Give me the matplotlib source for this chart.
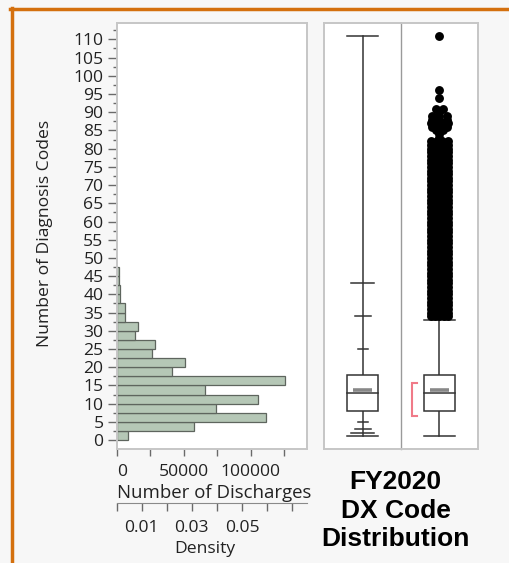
import numpy as np
import matplotlib
matplotlib.use("Agg")
import matplotlib.pyplot as plt
from matplotlib.ticker import FixedLocator, FuncFormatter, MultipleLocator
from matplotlib.lines import Line2D
from matplotlib.patches import Rectangle

# ---------------- data ----------------
bin_width = 2.5
bin_starts = [0, 2.5, 5, 7.5, 10, 12.5, 15, 17.5, 20, 22.5, 25, 27.5, 30,
              32.5, 35, 37.5, 40, 42.5, 45]
counts = [8750, 57800, 111700, 73800, 105200, 65800, 125700, 41600, 50600,
          26700, 28900, 13700, 15700, 6500, 6500, 2700, 2700, 1700, 1700]

count_ticks = [0, 25000, 50000, 75000, 100000, 125000]
count_labels = {0: "0", 50000: "50000", 100000: "100000"}
density_ticks = [0, 0.01, 0.02, 0.03, 0.04, 0.05, 0.06, 0.07]
density_labels = {0.01: "0.01", 0.03: "0.03", 0.05: "0.05"}

# quantile box plot (left)
q_levels = ["0.5%", "2.5%", "10%", "25%", "50%", "75%", "90%", "97.5%", "99.5%"]
q_values = [2, 3, 5, 8, 13, 18, 25, 34, 43]
data_min, data_max, data_mean = 1, 111, 13.8

# outlier box plot (right)
whisker_low, whisker_high = 1, 33
shortest_half = (6.6, 15.7)
outlier_values = [34, 35, 36, 37, 38, 39, 40, 41, 42, 43, 44, 45, 46, 47, 48, 49,
                  50, 51, 52, 53, 54, 55, 56, 57, 58, 59, 60, 61, 62, 63, 64, 65,
                  66, 67, 68, 69, 70, 71, 72, 73, 74, 75, 76, 77, 78, 79, 80, 81,
                  82, 83, 84, 85, 86, 87, 88, 89, 90, 91, 94, 96, 111]
outlier_points = [5, 5, 5, 5, 5, 5, 5, 5, 5, 5, 5, 5, 5, 5, 5, 5,
                  5, 5, 5, 5, 5, 5, 5, 5, 5, 5, 5, 5, 5, 5, 5, 5,
                  5, 5, 5, 5, 5, 5, 5, 5, 5, 5, 5, 5, 4, 5, 4, 4,
                  4, 1, 1, 2, 3, 4, 3, 3, 1, 2, 1, 1, 1]

# ---------------- style ----------------
FONT = "Open Sans"
TXT = "#222222"
TICKC = "#6a6a6a"
FRAME = "#c6c6c6"
FS = 12.6

W, H = 510, 563
fig = plt.figure(figsize=(W / 100, H / 100), dpi=100, facecolor="#f7f7f7")


def rect(x0, y0, x1, y1):
    return [x0 / W, 1 - y1 / H, (x1 - x0) / W, (y1 - y0) / H]


YLIM = (-2.45, 114.5)

# ---------------- histogram ----------------
ax = fig.add_axes(rect(116.7, 23, 307, 449))
ax.set_facecolor("white")
ax.barh(bin_starts, counts, height=bin_width, align="edge",
        color="#b5c7b6", edgecolor="#5e655e", linewidth=0.9, zorder=2)
ax.set_ylim(*YLIM)
ax.set_xlim(0, 142000)
for s in ax.spines.values():
    s.set_color(FRAME)
    s.set_linewidth(1.4)

ax.yaxis.set_major_locator(MultipleLocator(5))
ax.yaxis.set_minor_locator(MultipleLocator(2.5))
ax.yaxis.set_major_formatter(FuncFormatter(lambda v, p: f"{v:.0f}"))
ax.tick_params(axis="y", which="major", length=6.5, width=1, color=TICKC,
               labelsize=FS, labelcolor=TXT, pad=3)
ax.tick_params(axis="y", which="minor", length=3, width=1, color=TICKC)

ax.xaxis.set_major_locator(FixedLocator(count_ticks))
ax.xaxis.set_major_formatter(FuncFormatter(lambda v, p: count_labels.get(int(round(v)), "")))
ax.tick_params(axis="x", which="major", length=5.3, width=1, color=TICKC,
               labelsize=FS, labelcolor=TXT, pad=5.8)
for lab in ax.get_xticklabels():
    lab.set_fontfamily(FONT)
for lab in ax.get_yticklabels():
    lab.set_fontfamily(FONT)
ax.get_xticklabels()[0].set_ha("left")
ax.set_xlabel("Number of Discharges", fontsize=13.4, color=TXT, family=FONT,
              labelpad=0, ha="left")
ax.xaxis.set_label_coords(0.0, -0.082, transform=ax.transAxes)

N = float(sum(counts))
sec = ax.secondary_xaxis(-0.1275, functions=(lambda c: c / (N * bin_width),
                                             lambda d: d * N * bin_width))
sec.xaxis.set_major_locator(FixedLocator(density_ticks))
sec.xaxis.set_major_formatter(FuncFormatter(
    lambda v, p: density_labels.get(round(v, 2), "")))
sec.tick_params(axis="x", length=5.5, width=1, color=TICKC, labelsize=FS,
                labelcolor=TXT, pad=6.5)
for lab in sec.get_xticklabels():
    lab.set_fontfamily(FONT)
sec.spines["bottom"].set_color("#8a8a8a")
sec.set_xlabel("Density", fontsize=FS, color=TXT, family=FONT, labelpad=3.3)
sec.xaxis.label.set_x(0.464)

fig.text(45 / W, 1 - 233.5 / H, "Number of Diagnosis Codes", rotation=90,
         ha="center", va="center", fontsize=FS, color=TXT, family=FONT)

# ---------------- box plots ----------------
bx1 = fig.add_axes(rect(324.3, 23, 401, 449))
bx2 = fig.add_axes(rect(401, 23, 477.7, 449))
for b in (bx1, bx2):
    b.set_facecolor("white")
    b.set_ylim(*YLIM)
    b.set_xlim(-1, 1)
    b.set_xticks([])
    b.set_yticks([])
    for s in b.spines.values():
        s.set_color(FRAME)
        s.set_linewidth(1.4)
bx1.spines["right"].set_visible(False)
bx2.spines["left"].set_color("#9a9a9a")
bx2.spines["left"].set_linewidth(1.0)

LC = "#333333"
LW = 1.1
BOXHW = 0.4


def draw_box(b, q1, med, q3, mean):
    b.add_patch(Rectangle((-BOXHW, q1), 2 * BOXHW, q3 - q1, facecolor="white",
                          edgecolor=LC, linewidth=LW, zorder=3))
    b.plot([-BOXHW, BOXHW], [med, med], color=LC, lw=LW, zorder=4)
    b.plot([-0.25, 0.25], [mean, mean], color="#888888", lw=2.6,
           solid_capstyle="butt", zorder=4)


# left: quantile box plot
bx1.plot([0, 0], [data_min, data_max], color=LC, lw=LW, zorder=2)
for yv in (data_min, data_max):
    bx1.plot([-BOXHW, BOXHW], [yv, yv], color=LC, lw=LW, zorder=2)
q_half = {"0.5%": 0.296, "2.5%": 0.205, "10%": 0.13,
          "90%": 0.13, "97.5%": 0.205, "99.5%": 0.296}
for lvl, val in zip(q_levels, q_values):
    if lvl in q_half:
        hw = q_half[lvl]
        bx1.plot([-hw, hw], [val, val], color=LC, lw=LW, zorder=2)
draw_box(bx1, q_values[3], q_values[4], q_values[5], data_mean)

# right: outlier box plot
bx2.plot([0, 0], [whisker_low, whisker_high], color=LC, lw=LW, zorder=2)
for yv in (whisker_low, whisker_high):
    bx2.plot([-BOXHW, BOXHW], [yv, yv], color=LC, lw=LW, zorder=2)
draw_box(bx2, q_values[3], q_values[4], q_values[5], data_mean)

ox, oy = [], []
for v, n in zip(outlier_values, outlier_points):
    hw = min(0.22, 0.1 * (n - 1))
    offs = np.linspace(-hw, hw, n) if n > 1 else [0.0]
    for o in offs:
        ox.append(o)
        oy.append(v)
bx2.plot(ox, oy, "o", color="black", markersize=6.4, markeredgewidth=0, zorder=5)

# shortest half bracket
bl, bh = shortest_half
bx2.plot([-0.58, -0.72, -0.72, -0.58], [bh, bh, bl, bl], color="#f07a88",
         lw=1.5, zorder=3, solid_joinstyle="miter")

# ---------------- title ----------------
fig.text(395.5 / W, 1 - 510.5 / H, "FY2020\nDX Code\nDistribution",
         ha="center", va="center", fontsize=19, fontweight="bold",
         family="Liberation Sans", color="black", linespacing=1.23,
         multialignment="center")

# ---------------- orange border ----------------
fig.add_artist(Line2D([10 / W, 1.0], [1 - 8.7 / H, 1 - 8.7 / H],
                      transform=fig.transFigure, color="#d4700e", lw=2.5))
fig.add_artist(Line2D([11.7 / W, 11.7 / W], [1 - 7.5 / H, 0],
                      transform=fig.transFigure, color="#d4700e", lw=2.5))

fig.savefig("out.png", dpi=100, facecolor=fig.get_facecolor())
